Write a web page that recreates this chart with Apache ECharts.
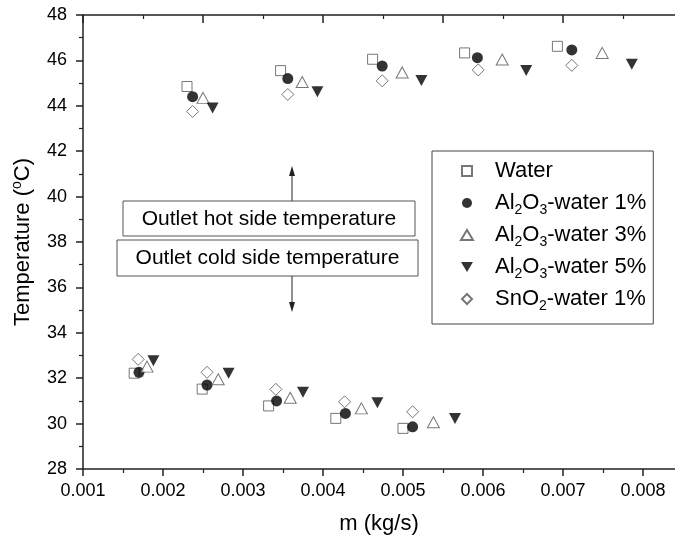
<!DOCTYPE html>
<html>
<head>
<meta charset="utf-8">
<script src="https://cdn.jsdelivr.net/npm/echarts@6/dist/echarts.min.js"></script>
<style>
  html, body { margin: 0; padding: 0; background: #fff; }
  #chart { width: 675px; height: 542px; }
</style>
</head>
<body>
<div id="chart"></div>
<script>
// series names (legend order)
const seriesNames = ['Water', 'Al2O3-water 1%', 'Al2O3-water 3%', 'Al2O3-water 5%', 'SnO2-water 1%'];

// [m (kg/s), T (°C)] - outlet hot side first, then outlet cold side
const water = [
    [0.00230, 44.85], [0.00347, 45.55], [0.00462, 46.05], [0.00577, 46.33], [0.00693, 46.62],
    [0.00164, 32.22], [0.00249, 31.52], [0.00332, 30.78], [0.00416, 30.23], [0.00500, 29.79]
];
const alumina1 = [
    [0.00237, 44.40], [0.00356, 45.20], [0.00474, 45.75], [0.00593, 46.12], [0.00711, 46.46],
    [0.00170, 32.26], [0.00255, 31.70], [0.00342, 31.00], [0.00428, 30.45], [0.00512, 29.86]
];
const alumina3 = [
    [0.00250, 44.35], [0.00374, 45.05], [0.00499, 45.47], [0.00624, 46.04], [0.00749, 46.33],
    [0.00180, 32.51], [0.00269, 31.95], [0.00359, 31.14], [0.00448, 30.67], [0.00538, 30.06]
];
const alumina5 = [
    [0.00262, 43.90], [0.00393, 44.62], [0.00523, 45.12], [0.00654, 45.56], [0.00786, 45.83],
    [0.00188, 32.77], [0.00282, 32.22], [0.00375, 31.38], [0.00468, 30.92], [0.00565, 30.23]
];
const tinOxide1 = [
    [0.00237, 43.75], [0.00356, 44.50], [0.00474, 45.10], [0.00594, 45.58], [0.00711, 45.78],
    [0.00169, 32.83], [0.00255, 32.26], [0.00341, 31.51], [0.00427, 30.96], [0.00512, 30.52]
];

const annotations = ['Outlet hot side temperature', 'Outlet cold side temperature'];

const FONT = '"Liberation Sans", Arial, sans-serif';
const SQUARE = 'path://M0,0H10V10H0Z';
const TRI_UP = 'path://M6,0L12,10L0,10Z';
const TRI_DOWN = 'path://M0,0L12,0L6,10Z';
const DIAMOND = 'path://M6,0L12,6L6,12L0,6Z';

const hollow = { color: '#fff', borderColor: '#555', borderWidth: 1 };
const filled = { color: '#000', borderWidth: 0 };

function scatter(name, data, symbol, size, style) {
    return {
        name, type: 'scatter', data, symbol, symbolSize: size,
        xAxisIndex: 0, yAxisIndex: 0,
        itemStyle: style,
        emphasis: { disabled: true }
    };
}

const chart = echarts.init(document.getElementById('chart'));

chart.setOption({
    animation: false,
    textStyle: { fontFamily: FONT },
    // plot frame runs past the right edge of the picture (cropped original)
    grid: { left: 83, top: 15, right: -48, bottom: 73, outerBoundsMode: 'none', containLabel: false },
    xAxis: [{
        type: 'value',
        position: 'bottom',
        min: 0.001, max: 0.009, interval: 0.001,
        name: 'm (kg/s)',
        nameLocation: 'middle',
        nameGap: 44,
        nameTextStyle: { fontSize: 22, color: '#000', padding: [0, 48, 0, 0] },
        axisLine: { lineStyle: { color: '#222', width: 1.5 } },
        axisTick: { length: 7, lineStyle: { color: '#222', width: 1.5 } },
        minorTick: { show: true, splitNumber: 2, length: 4, lineStyle: { color: '#222', width: 1.2 } },
        splitLine: { show: false },
        axisLabel: { fontSize: 18, color: '#000', margin: 13, formatter: v => v.toFixed(3) }
    }, {
        type: 'value',
        position: 'top',
        min: 0, max: 640 / 60, interval: 2,
        axisLine: { lineStyle: { color: '#222', width: 1.5 } },
        axisTick: { inside: true, length: 8, lineStyle: { color: '#222', width: 1.5 } },
        minorTick: { show: true, splitNumber: 2, length: 4, lineStyle: { color: '#222', width: 1.2 } },
        splitLine: { show: false },
        axisLabel: { show: false }
    }],
    yAxis: {
        type: 'value',
        min: 28, max: 48, interval: 2,
        name: 'Temperature ({sup|o}C)',
        nameLocation: 'middle',
        nameGap: 46,
        nameTextStyle: {
            fontSize: 22, color: '#000', lineHeight: 26,
            rich: { sup: { fontSize: 14, lineHeight: 14, verticalAlign: 'top', color: '#000' } }
        },
        axisLine: { show: true, lineStyle: { color: '#222', width: 1.5 } },
        axisTick: { length: 7, lineStyle: { color: '#222', width: 1.5 } },
        minorTick: { show: true, splitNumber: 2, length: 4, lineStyle: { color: '#222', width: 1.2 } },
        splitLine: { show: false },
        axisLabel: { fontSize: 18, color: '#000', margin: 16 }
    },
    legend: {
        orient: 'vertical',
        left: 432, top: 151,
        padding: [6, 7, 11, 28],
        itemGap: 4,
        itemWidth: 46, itemHeight: 10,
        symbolKeepAspect: true,
        selectedMode: false,
        borderColor: '#444', borderWidth: 1,
        data: seriesNames,
        formatter: name => name.replace(/([A-Za-z])(\d)/g, '$1{s|$2}'),
        textStyle: {
            fontSize: 22, color: '#000', lineHeight: 28,
            rich: { s: { fontSize: 14, lineHeight: 12, verticalAlign: 'bottom', color: '#000' } }
        }
    },
    graphic: [
        { type: 'line', shape: { x1: 292, y1: 201, x2: 292, y2: 174 }, style: { stroke: '#222', lineWidth: 1 } },
        { type: 'polygon', shape: { points: [[292, 166], [289, 176], [295, 176]] }, style: { fill: '#222' } },
        { type: 'line', shape: { x1: 292, y1: 276, x2: 292, y2: 304 }, style: { stroke: '#222', lineWidth: 1 } },
        { type: 'polygon', shape: { points: [[292, 312], [289, 302], [295, 302]] }, style: { fill: '#222' } },
        { type: 'rect', shape: { x: 123, y: 201, width: 292, height: 35 }, style: { fill: '#fff', stroke: '#555', lineWidth: 1 } },
        { type: 'text', x: 269, y: 219, style: { text: annotations[0], font: '21px ' + FONT, fill: '#000', align: 'center', verticalAlign: 'middle' } },
        { type: 'rect', shape: { x: 117, y: 240, width: 301, height: 36 }, style: { fill: '#fff', stroke: '#555', lineWidth: 1 } },
        { type: 'text', x: 267.5, y: 258, style: { text: annotations[1], font: '21px ' + FONT, fill: '#000', align: 'center', verticalAlign: 'middle' } }
    ],
    series: [
        scatter(seriesNames[0], water, SQUARE, [10, 10], hollow),
        scatter(seriesNames[1], alumina1, 'circle', 11, filled),
        scatter(seriesNames[2], alumina3, TRI_UP, [12, 11], hollow),
        scatter(seriesNames[3], alumina5, TRI_DOWN, [12, 11], filled),
        scatter(seriesNames[4], tinOxide1, DIAMOND, [12, 12], hollow)
    ]
});
</script>
</body>
</html>
